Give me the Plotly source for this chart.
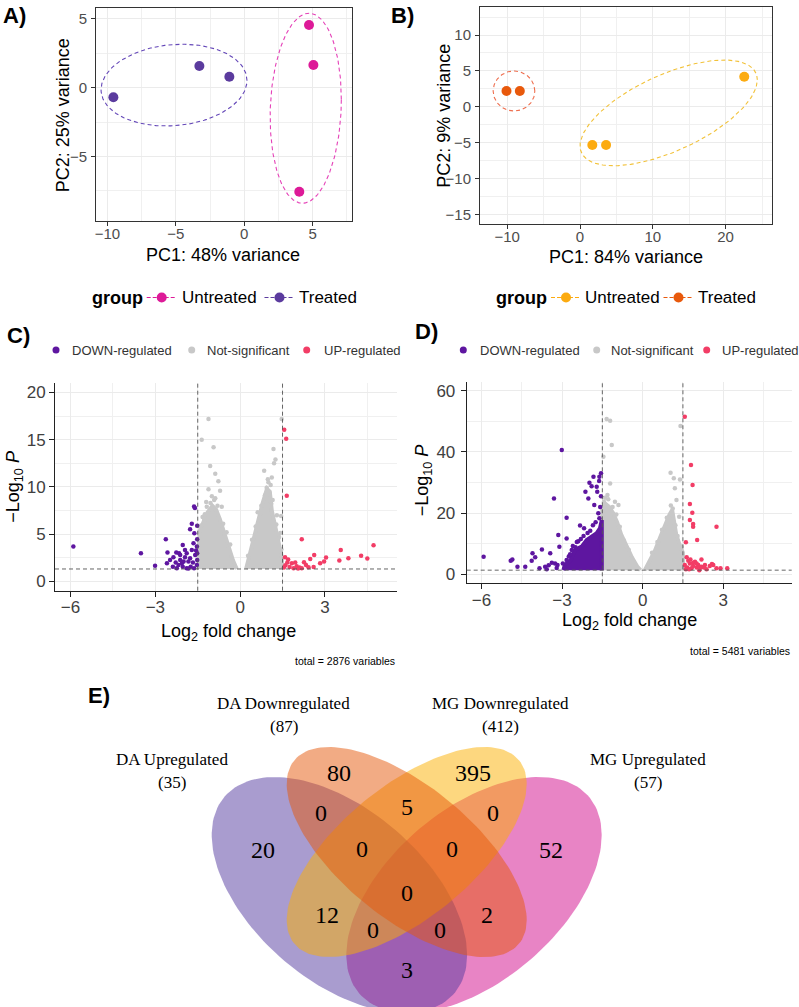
import numpy as np
import plotly.graph_objects as go

W, H = 799, 1007
SANS = "Liberation Sans"
SERIF = "Liberation Serif"

# ---------------- colours ----------------
A_UNT, A_TRT = "#DD1A98", "#5B3B9E"
A_UNT_EL, A_TRT_EL = "#E542B8", "#6447B8"
B_UNT, B_TRT = "#FCAB10", "#E8590C"
B_UNT_EL, B_TRT_EL = "#F2C23A", "#EE6E4E"
DOWN_COL, NS_COL, UP_COL = "#5E16A0", "#C8C8C8", "#F23D66"

# ---------------- A) PCA  (DA) ----------------
a_untreated_pc1 = [4.73, 5.05, 4.02]
a_untreated_pc2 = [4.55, 1.64, -7.56]
a_treated_pc1 = [-9.56, -3.28, -1.09]
a_treated_pc2 = [-0.70, 1.57, 0.79]
# stat_ellipse outlines: (centre x, centre y, half-width x, half-width y, covariance term)
a_untreated_ellipse = (4.49, -1.50, 2.60, 6.90, 1.66)
a_treated_ellipse = (-5.13, 0.18, 5.33, 2.97, 1.78)

# ---------------- B) PCA  (MG) ----------------
b_untreated_pc1 = [1.69, 3.58, 22.56]
b_untreated_pc2 = [-5.35, -5.35, 4.19]
b_treated_pc1 = [-10.10, -8.27]
b_treated_pc2 = [2.20, 2.20]
b_untreated_ellipse = (12.18, -0.86, 12.18, 7.37, 56.0)
b_treated_ellipse = (-9.07, 2.19, 2.86, 2.79, 0.0)

pca_groups = ["Untreated", "Treated"]
pca_a_axis_titles = ["PC1: 48% variance", "PC2: 25% variance"]
pca_b_axis_titles = ["PC1: 84% variance", "PC2: 9% variance"]

# ---------------- volcano thresholds ----------------
FC_CUTOFF = 1.5
P_CUTOFF = 1.30103  # -log10(0.05)
volcano_classes = ["DOWN-regulated", "Not-significant", "UP-regulated"]

# ---------------- C) volcano (DA), total 2876 ----------------
c_total = 2876
c_ns_left_x = [-1.47, -1.47, -1.42, -1.30, -1.15, -0.98, -0.85, -0.72, -0.55, -0.40, -0.25, -0.12]
c_ns_left_y = [1.30, 3.60, 5.40, 6.30, 7.30, 8.00, 7.60, 6.60, 5.00, 3.50, 2.20, 1.30]
c_ns_right_x = [0.21, 0.35, 0.50, 0.65, 0.80, 0.95, 1.05, 1.12, 1.25, 1.40, 1.48, 1.48]
c_ns_right_y = [1.30, 3.00, 4.80, 6.50, 8.30, 9.80, 9.50, 7.50, 5.50, 3.60, 2.50, 1.30]
c_ns_x = [-1.12, -1.36, -0.94, -1.06, -0.88, -0.77, -1.12, -0.71, -0.88, -1.27, -1.42, -0.65,
          -1.00, -1.20, 1.47, 1.18, 1.20, 1.25, 1.12, 0.85, 0.94, 1.04, 1.18, 1.30, 1.45, 1.42,
          0.71, 1.35, 1.10,
          -1.40, -1.33, -1.25, -1.18, -1.05, -0.92, -0.80, -0.60, -0.48, -0.35, -1.45, -1.38,
          0.28, 0.42, 0.55, 0.62, 0.75, 0.88, 1.00, 1.15, 1.28, 1.38, 1.46, 0.98, 1.08]
c_ns_y = [17.2, 15.0, 14.2, 12.2, 11.4, 10.6, 9.75, 9.6, 8.8, 6.5, 5.8, 7.9,
          9.0, 8.4, 17.2, 14.0, 12.5, 12.9, 11.0, 11.7, 9.9, 9.3, 6.15, 7.0, 6.9, 5.1,
          7.2, 4.5, 8.2,
          4.6, 6.8, 7.1, 7.9, 8.3, 8.6, 8.0, 6.1, 5.2, 3.9, 3.9, 5.9,
          2.7, 4.4, 5.8, 7.3, 8.0, 9.1, 10.5, 8.6, 6.0, 4.7, 3.4, 10.8, 10.2]
c_down_x = [-5.90, -3.51, -3.01, -2.63, -2.57, -2.59, -2.03, -2.16, -1.63, -1.60, -1.71, -1.77,
            -1.52, -1.62, -1.52, -2.36, -2.28, -2.12, -1.95, -1.83, -1.71, -1.89, -2.03, -2.24,
            -2.38, -1.63, -1.53, -1.52, -1.75, -1.89, -2.06, -1.95, -1.59, -2.12, -2.26, -1.53,
            -1.65, -1.77, -2.48, -2.18, -1.83, -2.00, -1.67, -1.56, -1.52]
c_down_y = [3.67, 2.97, 1.63, 4.45, 3.04, 1.91, 3.85, 2.97, 7.92, 7.75, 6.08, 5.51,
            5.87, 5.09, 4.45, 2.54, 1.98, 2.26, 2.54, 2.08, 3.32, 2.97, 1.55, 1.38,
            1.55, 1.38, 1.73, 2.26, 1.55, 1.38, 1.91, 3.32, 2.79, 2.79, 3.04, 3.67,
            4.03, 2.44, 2.26, 1.73, 1.35, 2.08, 1.98, 3.25, 2.97]
c_up_x = [1.56, 1.63, 1.65, 2.18, 1.59, 1.67, 1.83, 1.89, 2.62, 2.48, 2.26, 2.33, 2.18, 2.42,
          2.83, 2.97, 3.04, 3.51, 3.56, 3.83, 4.28, 4.50, 4.72, 1.55, 1.60, 1.75, 2.00, 2.10,
          1.95, 2.05, 1.70, 2.60]
c_up_y = [16.04, 15.09, 9.05, 4.45, 2.54, 1.98, 1.91, 1.38, 2.79, 2.37, 2.01, 1.73, 1.38, 1.48,
          1.91, 2.08, 2.51, 2.19, 3.32, 2.44, 2.69, 2.40, 3.82, 1.45, 1.70, 1.50, 1.60, 1.45,
          2.00, 1.35, 2.30, 1.50]

# ---------------- D) volcano (MG), total 5481 ----------------
d_total = 5481
d_ns_left_x = [-1.50, -1.50, -1.38, -1.25, -1.10, -0.95, -0.80, -0.60, -0.40, -0.20, -0.08]
d_ns_left_y = [1.30, 21.0, 23.0, 22.0, 20.0, 17.0, 13.0, 9.0, 5.5, 2.5, 1.30]
d_ns_right_x = [0.08, 0.25, 0.45, 0.65, 0.85, 1.00, 1.10, 1.17, 1.25, 1.38, 1.50, 1.50]
d_ns_right_y = [1.30, 4.0, 7.5, 12.0, 16.5, 19.5, 21.0, 17.0, 13.0, 9.5, 7.0, 1.30]
d_ns_x = [-1.34, -1.21, -1.15, -1.46, -1.21, -1.31, -1.03, -0.90, -1.44, 1.41, 1.04, 1.16,
          1.39, 1.20, 1.26, 1.12, 1.36, 1.45,
          -1.40, -1.28, -1.12, -0.98, -0.85, -0.70, -0.52, 0.35, 0.55, 0.72, 0.90, 1.05, 1.22, 1.30]
d_ns_y = [50.8, 50.2, 42.3, 38.4, 29.7, 25.9, 23.7, 22.6, 23.7, 48.5, 33.2, 31.4,
          31.0, 28.1, 24.3, 21.5, 18.8, 9.0,
          25.0, 24.5, 22.0, 19.5, 15.5, 11.0, 8.0, 7.0, 10.5, 14.5, 18.5, 22.5, 16.0, 12.5]
d_down_dense_x = [-2.95, -2.89, -2.68, -2.52, -2.27, -2.08, -1.90, -1.71, -1.59, -1.52, -1.52]
d_down_dense_y = [1.30, 3.0, 4.6, 7.9, 9.0, 11.2, 12.3, 13.4, 15.0, 17.7, 1.30]
d_down_x = [-5.92, -4.91, -4.85, -4.66, -4.37, -4.10, -4.13, -4.00, -3.75, -3.84, -3.63, -3.44,
            -3.30, -3.26, -3.14, -3.10, -3.01, -2.83, -2.83, -2.64, -2.33, -2.18, -2.13, -1.98,
            -1.83, -1.90, -2.02, -1.71, -1.69, -1.61, -1.55, -1.80, -1.65, -1.61, -3.57, -3.38,
            -3.17, -2.97, -2.83, -3.50, -3.20, -2.90, -2.75, -2.45, -2.20, -1.58, -1.75, -1.85,
            -1.55, -1.62, -2.60, -2.40, -2.05, -1.95, -2.70, -2.50, -2.30]
d_down_y = [5.7, 4.4, 4.8, 2.4, 2.4, 6.8, 4.4, 5.5, 8.1, 1.9, 2.4, 6.8,
            24.8, 3.5, 12.8, 9.0, 40.6, 18.5, 11.7, 7.9, 15.9, 15.0, 27.0, 29.9,
            31.9, 28.8, 24.8, 28.6, 27.0, 31.9, 33.0, 22.6, 19.9, 18.3, 1.56, 3.74,
            2.98, 3.52, 4.6, 2.9, 2.0, 2.2, 5.8, 10.5, 12.5, 22.0, 17.0, 16.0,
            25.5, 30.5, 9.2, 10.8, 13.5, 14.2, 6.5, 8.8, 11.5]
d_up_x = [1.57, 1.80, 1.86, 1.76, 1.85, 1.76, 1.88, 1.88, 2.75, 2.03, 1.61, 1.64, 2.19, 2.63,
          2.75, 3.15, 1.57, 1.66, 1.76, 1.82, 1.88, 1.95, 2.01, 2.07, 2.13, 1.70, 1.78, 1.88,
          1.61, 2.19, 2.28, 2.32, 2.38, 2.01, 1.73, 2.11, 2.50, 2.58, 2.90]
d_up_y = [51.5, 35.7, 29.2, 23.0, 20.1, 17.7, 16.4, 15.5, 15.5, 11.2, 10.4, 5.5, 4.8, 3.0,
          1.9, 1.9, 2.98, 2.21, 3.52, 1.89, 2.65, 4.07, 2.21, 2.98, 1.89, 4.40, 4.83, 3.74,
          1.56, 2.43, 2.21, 2.98, 1.56, 3.52, 1.56, 1.30, 2.65, 3.30, 1.90]

# ---------------- E) Venn ----------------
venn_sets = ["DA Upregulated", "DA Downregulated", "MG Downregulated", "MG Upregulated"]
venn_set_sizes = [35, 87, 412, 57]
venn_regions = ["DAup", "DAdown", "MGdown", "MGup",
                "DAup&DAdown", "DAdown&MGdown", "MGdown&MGup",
                "DAup&DAdown&MGdown", "DAdown&MGdown&MGup",
                "DAup&MGdown", "DAdown&MGup", "all",
                "DAup&MGdown&MGup", "DAup&DAdown&MGup", "DAup&MGup"]
venn_counts = [20, 80, 395, 52, 0, 5, 0, 0, 0, 12, 2, 0, 0, 0, 3]

# layout constants for the Venn (page pixel coordinates)
venn_label_pos = {
    "DAup": (262.7, 849.5), "DAdown": (338.5, 772.7), "MGdown": (473.3, 773.0), "MGup": (550.7, 850.0),
    "DAup&DAdown": (320.7, 812.7), "DAdown&MGdown": (406.7, 806.7), "MGdown&MGup": (493.3, 813.0),
    "DAup&DAdown&MGdown": (361.7, 849.0), "DAdown&MGdown&MGup": (451.7, 848.5),
    "DAup&MGdown": (326.7, 914.5), "DAdown&MGup": (486.7, 915.0), "all": (406.7, 893.3),
    "DAup&MGdown&MGup": (373.3, 930.0), "DAup&DAdown&MGup": (440.0, 930.0), "DAup&MGup": (406.7, 970.0),
}
venn_set_label_pos = {
    "DA Upregulated": (172.3, 759.5, 782.0), "DA Downregulated": (283.7, 703.3, 726.0),
    "MG Downregulated": (500.0, 703.3, 726.5), "MG Upregulated": (647.5, 759.5, 782.0),
}
# ellipse geometry in page pixels (cx, cy, half-width x, half-width y, covariance), drawing order
venn_ellipses = [
    ("MG Upregulated", (474.0, 895.0, 127.7, 118.0, -7662.0), "rgba(210,10,140,0.5)"),
    ("DA Upregulated", (339.4, 895.0, 127.7, 118.0, 7662.0), "rgba(84,57,159,0.5)"),
    ("MG Downregulated", (406.7, 852.0, 120.0, 105.0, -8160.0), "rgba(251,175,0,0.5)"),
    ("DA Downregulated", (406.7, 852.0, 120.0, 105.0, 8160.0), "rgba(229,87,10,0.5)"),
]


def ellipse(cx, cy, hx, hy, c, n=160):
    t = np.linspace(0, 2 * np.pi, n)
    k = c / hx
    s = np.sqrt(hy ** 2 - k ** 2)
    return cx + hx * np.cos(t), cy + k * np.cos(t) + s * np.sin(t)


fig = go.Figure()


def put(trace, ax):
    trace.update(xaxis="x" + ax, yaxis="y" + ax, showlegend=False, hoverinfo="skip")
    fig.add_trace(trace)


# ---- PCA panels ----
for ax, unt, trt, unt_el, trt_el, cu, ct, ceu, cet in [
    ("", (a_untreated_pc1, a_untreated_pc2), (a_treated_pc1, a_treated_pc2),
     a_untreated_ellipse, a_treated_ellipse, A_UNT, A_TRT, A_UNT_EL, A_TRT_EL),
    ("2", (b_untreated_pc1, b_untreated_pc2), (b_treated_pc1, b_treated_pc2),
     b_untreated_ellipse, b_treated_ellipse, B_UNT, B_TRT, B_UNT_EL, B_TRT_EL),
]:
    for el, col in [(unt_el, ceu), (trt_el, cet)]:
        ex, ey = ellipse(*el)
        put(go.Scatter(x=ex, y=ey, mode="lines", line=dict(color=col, width=1.1, dash="4px,3px")), ax)
    put(go.Scatter(x=unt[0], y=unt[1], mode="markers", marker=dict(size=10, color=cu)), ax)
    put(go.Scatter(x=trt[0], y=trt[1], mode="markers", marker=dict(size=10, color=ct)), ax)

# ---- volcano panels ----
for ax, polys, ns, down, up, dense in [
    ("3", [(c_ns_left_x, c_ns_left_y), (c_ns_right_x, c_ns_right_y)], (c_ns_x, c_ns_y),
     (c_down_x, c_down_y), (c_up_x, c_up_y), None),
    ("4", [(d_ns_left_x, d_ns_left_y), (d_ns_right_x, d_ns_right_y)], (d_ns_x, d_ns_y),
     (d_down_x, d_down_y), (d_up_x, d_up_y), (d_down_dense_x, d_down_dense_y)),
]:
    for px_, py_ in polys:
        put(go.Scatter(x=px_, y=py_, mode="lines", fill="toself", fillcolor=NS_COL,
                       line=dict(color=NS_COL, width=4)), ax)
    put(go.Scatter(x=ns[0], y=ns[1], mode="markers", marker=dict(size=4.5, color=NS_COL)), ax)
    if dense is not None:
        put(go.Scatter(x=dense[0], y=dense[1], mode="lines", fill="toself", fillcolor=DOWN_COL,
                       line=dict(color=DOWN_COL, width=4)), ax)
    put(go.Scatter(x=down[0], y=down[1], mode="markers", marker=dict(size=4.5, color=DOWN_COL)), ax)
    put(go.Scatter(x=up[0], y=up[1], mode="markers", marker=dict(size=4.5, color=UP_COL)), ax)

    for xv in (-FC_CUTOFF, FC_CUTOFF):
        fig.add_shape(type="line", xref="x" + ax, yref="y" + ax + " domain", x0=xv, x1=xv, y0=0, y1=1,
                      line=dict(color="#555555", width=0.9, dash="4px,3px"), layer="above")
    fig.add_shape(type="line", xref="x" + ax + " domain", yref="y" + ax, x0=0, x1=1, y0=P_CUTOFF, y1=P_CUTOFF,
                  line=dict(color="#555555", width=0.9, dash="4px,3px"), layer="above")

# ---- Venn ----
for name, geo, fillc in venn_ellipses:
    ex, ey = ellipse(*geo)
    put(go.Scatter(x=ex, y=ey, mode="lines", fill="toself", fillcolor=fillc,
                   line=dict(width=0, color="rgba(0,0,0,0)")), "5")


def txt(x, y, s, size, color="black", family=SANS, xanchor="center", angle=0):
    fig.add_annotation(x=x, y=y, xref="x5", yref="y5", text=s, showarrow=False,
                       font=dict(family=family, size=size, color=color),
                       xanchor=xanchor, yanchor="middle", textangle=angle)


for reg, cnt in zip(venn_regions, venn_counts):
    x, y = venn_label_pos[reg]
    txt(x, y, str(cnt), 24, family=SERIF)
for nm, sz in zip(venn_sets, venn_set_sizes):
    x, y1, y2 = venn_set_label_pos[nm]
    txt(x, y1, nm, 17, family=SERIF)
    txt(x, y2, f"({sz})", 17, family=SERIF)

# ---- PCA legends ----
for (gx, keys), cols in [((117.0, [(146.7, 176.7, 180.0), (264.5, 294.5, 296.5)]), (A_UNT, A_TRT)),
                         ((521.7, [(551.0, 581.0, 583.3), (663.5, 693.5, 695.5)]), (B_UNT, B_TRT))]:
    txt(gx, 297.5, "<b>group</b>", 18)
    for (x0, x1, tx), col, lab in zip(keys, cols, pca_groups):
        put(go.Scatter(x=[x0, x1], y=[297.5, 297.5], mode="lines",
                       line=dict(color=col, width=1.2, dash="4px,2px")), "5")
        put(go.Scatter(x=[(x0 + x1) / 2], y=[297.5], mode="markers", marker=dict(size=10, color=col)), "5")
        txt(tx, 297.5, lab, 17, xanchor="left")

# ---- volcano legends ----
for dots, texts in [((56.0, 191.7, 306.7), (70.0, 205.0, 321.7)),
                    ((463.3, 596.7, 706.7), (477.5, 609.0, 719.5))]:
    for dx_, tx, col, lab in zip(dots, texts, (DOWN_COL, NS_COL, UP_COL), volcano_classes):
        put(go.Scatter(x=[dx_], y=[350], mode="markers", marker=dict(size=7, color=col)), "5")
        txt(tx, 350, lab, 13, color="#333333", xanchor="left")

# ---- axis titles / captions / panel letters ----
txt(222.8, 255.0, pca_a_axis_titles[0], 18)
txt(63.3, 115.0, pca_a_axis_titles[1], 18, angle=-90)
txt(625.8, 256.7, pca_b_axis_titles[0], 18)
txt(443.3, 115.5, pca_b_axis_titles[1], 18, angle=-90)

txt(228.0, 632.0, "Log<sub>2</sub> fold change", 18)
txt(629.0, 621.5, "Log<sub>2</sub> fold change", 18)
txt(15.0, 486.7, "\u2212Log<sub>10</sub> <i>P</i>", 18, angle=-90)
txt(423.3, 480.0, "\u2212Log<sub>10</sub> <i>P</i>", 18, angle=-90)
txt(397.0, 661.0, f"total = {c_total} variables", 10.5, xanchor="right")
txt(791.7, 651.0, f"total = {d_total} variables", 10.5, xanchor="right")

for lab, x, y in [("A)", 14.0, 15.0), ("B)", 402.0, 15.0), ("C)", 18.3, 335.0),
                  ("D)", 426.7, 331.7), ("E)", 98.5, 695.0)]:
    txt(x, y, f"<b>{lab}</b>", 22)


# ---------------- axes ----------------
def dx(a, b):
    return [a / W, b / W]


def dy(top, bottom):
    return [1 - bottom / H, 1 - top / H]


pca_ax = dict(ticks="outside", ticklen=4, tickwidth=1, tickcolor="#333333",
              tickfont=dict(family=SANS, size=15, color="#4D4D4D"),
              showgrid=True, gridcolor="#EBEBEB", gridwidth=1, zeroline=False,
              showline=True, mirror=True, linecolor="#333333", linewidth=1, fixedrange=True)
vol_ax = dict(ticks="outside", ticklen=5, tickwidth=1, tickcolor="#222222",
              tickfont=dict(family=SANS, size=17, color="#404040"),
              showgrid=True, gridcolor="#EBEBEB", gridwidth=1, zeroline=False,
              showline=True, mirror=False, linecolor="#222222", linewidth=1, fixedrange=True)


def minor(d):
    return dict(tick0=0, dtick=d, showgrid=True, gridcolor="#F0F0F0", gridwidth=0.6)


fig.update_layout(
    width=W, height=H, margin=dict(l=0, r=0, t=0, b=0),
    paper_bgcolor="white", plot_bgcolor="rgba(0,0,0,0)", showlegend=False,
    font=dict(family=SANS),
    xaxis=dict(domain=dx(96, 352), range=[-10.83, 7.87], anchor="y", tick0=0, dtick=5, minor=minor(2.5),
               ticklabelstandoff=-5, **pca_ax),
    yaxis=dict(domain=dy(8, 221), range=[-9.69, 5.78], anchor="x", tick0=0, dtick=5, minor=minor(2.5),
               ticklabelstandoff=1, **pca_ax),
    xaxis2=dict(domain=dx(480, 771.7), range=[-13.74, 26.33], anchor="y2", tick0=0, dtick=10, minor=minor(5),
                ticklabelstandoff=-5, **pca_ax),
    yaxis2=dict(domain=dy(6.7, 224.3), range=[-16.4, 13.95], anchor="x2", tick0=0, dtick=5, minor=minor(2.5),
                ticklabelstandoff=1, **pca_ax),
    xaxis3=dict(domain=dx(55, 397), range=[-6.55, 5.55], anchor="y3", tick0=0, dtick=3, minor=minor(1.5),
                ticklabelstandoff=-4, **vol_ax),
    yaxis3=dict(domain=dy(383, 590.7), range=[-1, 21], anchor="x3", tick0=0, dtick=5, minor=minor(2.5), **vol_ax),
    xaxis4=dict(domain=dx(466.7, 791.7), range=[-6.55, 5.55], anchor="y4", tick0=0, dtick=3, minor=minor(1.5),
                ticklabelstandoff=-4, **vol_ax),
    yaxis4=dict(domain=dy(381.7, 583.3), range=[-3, 63], anchor="x4", tick0=0, dtick=20, minor=minor(10),
                ticklabelstandoff=2, **vol_ax),
    xaxis5=dict(domain=[0, 1], range=[0, W], anchor="y5", visible=False, fixedrange=True),
    yaxis5=dict(domain=[0, 1], range=[H, 0], anchor="x5", visible=False, fixedrange=True),
)

fig.write_html("out.html")
